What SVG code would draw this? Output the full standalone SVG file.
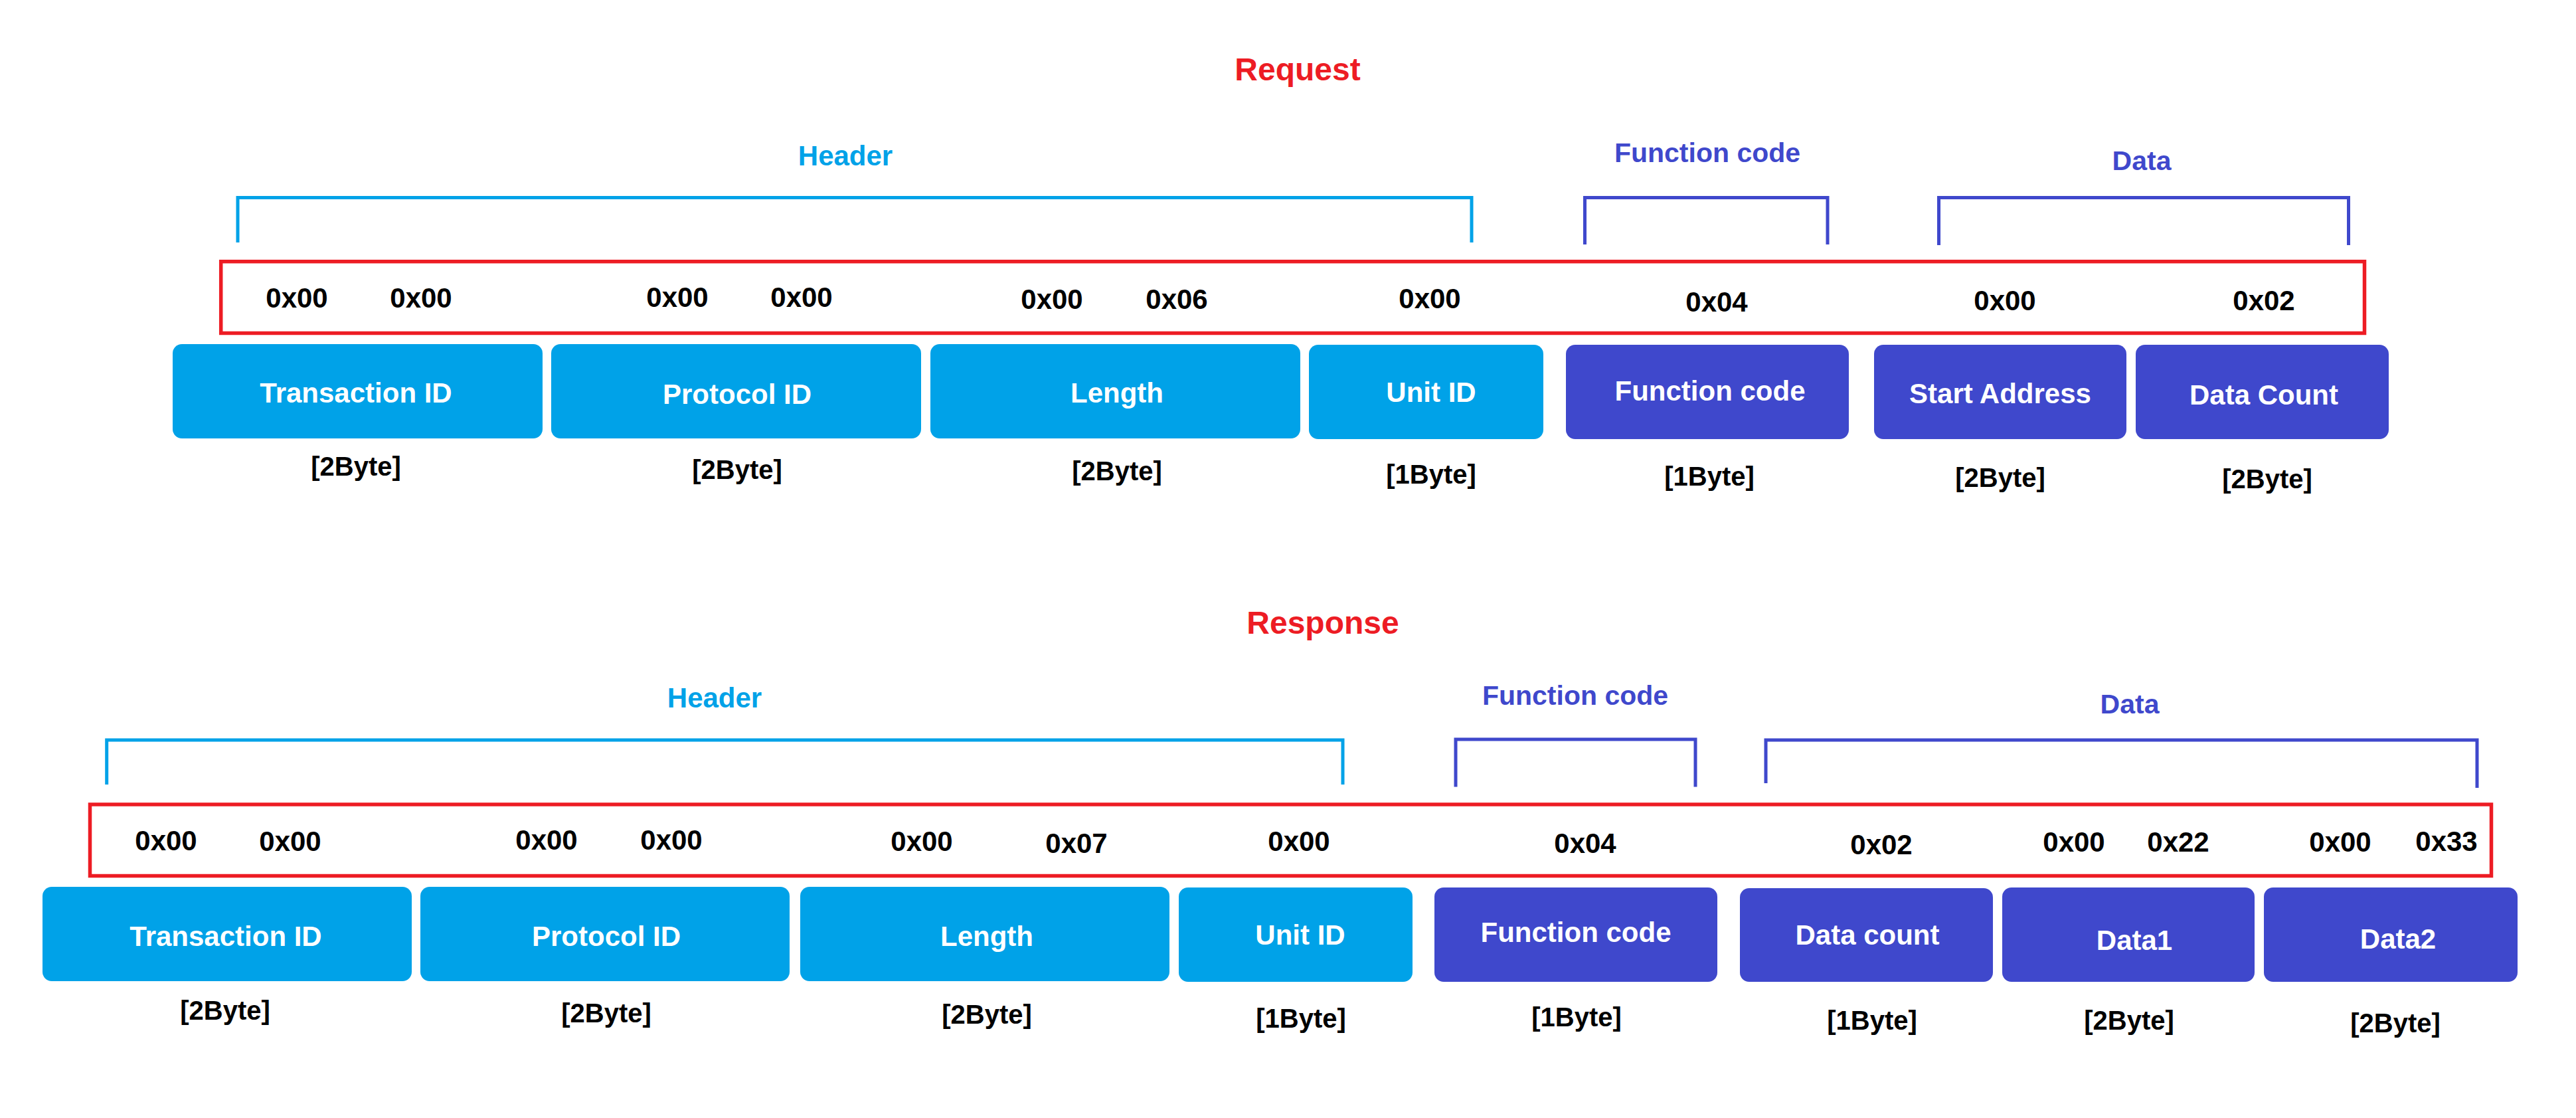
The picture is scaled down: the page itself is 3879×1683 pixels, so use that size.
<svg xmlns="http://www.w3.org/2000/svg" width="3879" height="1683" viewBox="0 0 3879 1683">
<style>
text{font-family:"Liberation Sans",Arial,sans-serif;font-weight:bold;text-anchor:middle}
.title{font-size:48px;fill:#ED1C24}
.hc{font-size:42px;fill:#00A2E8}
.bc{font-size:41px;fill:#3F48CC}
.hex{font-size:42px;fill:#000}
.lbl{font-size:42px;fill:#fff}
.sz{font-size:40px;fill:#000}
.cy{fill:#00A2E8}
.bl{fill:#3F48CC}
.brH{fill:none;stroke:#00A2E8;stroke-width:5}
.brB{fill:none;stroke:#3F48CC;stroke-width:5}
.frame{fill:none;stroke:#ED1C24;stroke-width:5.5}
</style>
<rect width="3879" height="1683" fill="#fff"/>

<!-- ===== Request ===== -->
<g id="request">
<text class="title" x="1954" y="121">Request</text>
<g id="req-brackets">
<path class="brH" d="M358,365 V297.5 H2216 V365"/>
<path class="brB" d="M2386.5,368 V297.5 H2752 V368"/>
<path class="brB" d="M2919.5,369 V297.5 H3536.5 V369"/>
<text class="hc" x="1273" y="249">Header</text>
<text class="bc" x="2571" y="244">Function code</text>
<text class="bc" x="3225" y="256">Data</text>
</g>
<g id="req-frame">
<rect class="frame" x="332.7" y="393.7" width="3227.8" height="107.8"/>
<text class="hex" x="447" y="463">0x00</text>
<text class="hex" x="634" y="463">0x00</text>
<text class="hex" x="1020" y="462">0x00</text>
<text class="hex" x="1207" y="462">0x00</text>
<text class="hex" x="1584" y="465">0x00</text>
<text class="hex" x="1772" y="465">0x06</text>
<text class="hex" x="2153" y="464">0x00</text>
<text class="hex" x="2585" y="469">0x04</text>
<text class="hex" x="3019" y="467">0x00</text>
<text class="hex" x="3409" y="467">0x02</text>
</g>
<g id="req-transaction-id">
<rect class="cy" x="260" y="518" width="557" height="142" rx="14"/>
<text class="lbl" x="536" y="606">Transaction ID</text>
<text class="sz" x="536" y="716">[2Byte]</text>
</g>
<g id="req-protocol-id">
<rect class="cy" x="830" y="518" width="557" height="142" rx="14"/>
<text class="lbl" x="1110" y="608">Protocol ID</text>
<text class="sz" x="1110" y="721">[2Byte]</text>
</g>
<g id="req-length">
<rect class="cy" x="1401" y="518" width="557" height="142" rx="14"/>
<text class="lbl" x="1682" y="606">Length</text>
<text class="sz" x="1682" y="723">[2Byte]</text>
</g>
<g id="req-unit-id">
<rect class="cy" x="1971" y="519" width="353" height="142" rx="14"/>
<text class="lbl" x="2155" y="605">Unit ID</text>
<text class="sz" x="2155" y="728">[1Byte]</text>
</g>
<g id="req-function-code">
<rect class="bl" x="2358" y="519" width="426" height="142" rx="14"/>
<text class="lbl" x="2575" y="603">Function code</text>
<text class="sz" x="2574" y="731">[1Byte]</text>
</g>
<g id="req-start-address">
<rect class="bl" x="2822" y="519" width="380" height="142" rx="14"/>
<text class="lbl" x="3012" y="607">Start Address</text>
<text class="sz" x="3012" y="733">[2Byte]</text>
</g>
<g id="req-data-count">
<rect class="bl" x="3216" y="519" width="381" height="142" rx="14"/>
<text class="lbl" x="3409" y="609">Data Count</text>
<text class="sz" x="3414" y="735">[2Byte]</text>
</g>
</g>

<!-- ===== Response ===== -->
<g id="response">
<text class="title" x="1992" y="954">Response</text>
<g id="res-brackets">
<path class="brH" d="M160.7,1181 V1114 H2022 V1181"/>
<path class="brB" d="M2192,1184.5 V1113 H2553 V1184.5"/>
<path class="brB" d="M2659,1179 V1114 H3730 V1186"/>
<text class="hc" x="1076" y="1065">Header</text>
<text class="bc" x="2372" y="1061">Function code</text>
<text class="bc" x="3207" y="1074">Data</text>
</g>
<g id="res-frame">
<rect class="frame" x="135.5" y="1211" width="3616" height="107.5"/>
<text class="hex" x="250" y="1280">0x00</text>
<text class="hex" x="437" y="1281">0x00</text>
<text class="hex" x="823" y="1279">0x00</text>
<text class="hex" x="1011" y="1279">0x00</text>
<text class="hex" x="1388" y="1281">0x00</text>
<text class="hex" x="1621" y="1284">0x07</text>
<text class="hex" x="1956" y="1281">0x00</text>
<text class="hex" x="2387" y="1284">0x04</text>
<text class="hex" x="2833" y="1286">0x02</text>
<text class="hex" x="3123" y="1282">0x00</text>
<text class="hex" x="3280" y="1282">0x22</text>
<text class="hex" x="3524" y="1282">0x00</text>
<text class="hex" x="3684" y="1281">0x33</text>
</g>
<g id="res-transaction-id">
<rect class="cy" x="64" y="1335" width="556" height="142" rx="14"/>
<text class="lbl" x="340" y="1424">Transaction ID</text>
<text class="sz" x="339" y="1535">[2Byte]</text>
</g>
<g id="res-protocol-id">
<rect class="cy" x="633" y="1335" width="556" height="142" rx="14"/>
<text class="lbl" x="913" y="1424">Protocol ID</text>
<text class="sz" x="913" y="1539">[2Byte]</text>
</g>
<g id="res-length">
<rect class="cy" x="1205" y="1335" width="556" height="142" rx="14"/>
<text class="lbl" x="1486" y="1424">Length</text>
<text class="sz" x="1486" y="1541">[2Byte]</text>
</g>
<g id="res-unit-id">
<rect class="cy" x="1775" y="1336" width="352" height="142" rx="14"/>
<text class="lbl" x="1958" y="1422">Unit ID</text>
<text class="sz" x="1959" y="1547">[1Byte]</text>
</g>
<g id="res-function-code">
<rect class="bl" x="2160" y="1336" width="426" height="142" rx="14"/>
<text class="lbl" x="2373" y="1418">Function code</text>
<text class="sz" x="2374" y="1545">[1Byte]</text>
</g>
<g id="res-data-count">
<rect class="bl" x="2620" y="1337" width="381" height="141" rx="14"/>
<text class="lbl" x="2812" y="1422">Data count</text>
<text class="sz" x="2819" y="1550">[1Byte]</text>
</g>
<g id="res-data1">
<rect class="bl" x="3015" y="1336" width="380" height="142" rx="14"/>
<text class="lbl" x="3214" y="1430">Data1</text>
<text class="sz" x="3206" y="1550">[2Byte]</text>
</g>
<g id="res-data2">
<rect class="bl" x="3409" y="1336" width="382" height="142" rx="14"/>
<text class="lbl" x="3611" y="1428">Data2</text>
<text class="sz" x="3607" y="1554">[2Byte]</text>
</g>
</g>
</svg>
